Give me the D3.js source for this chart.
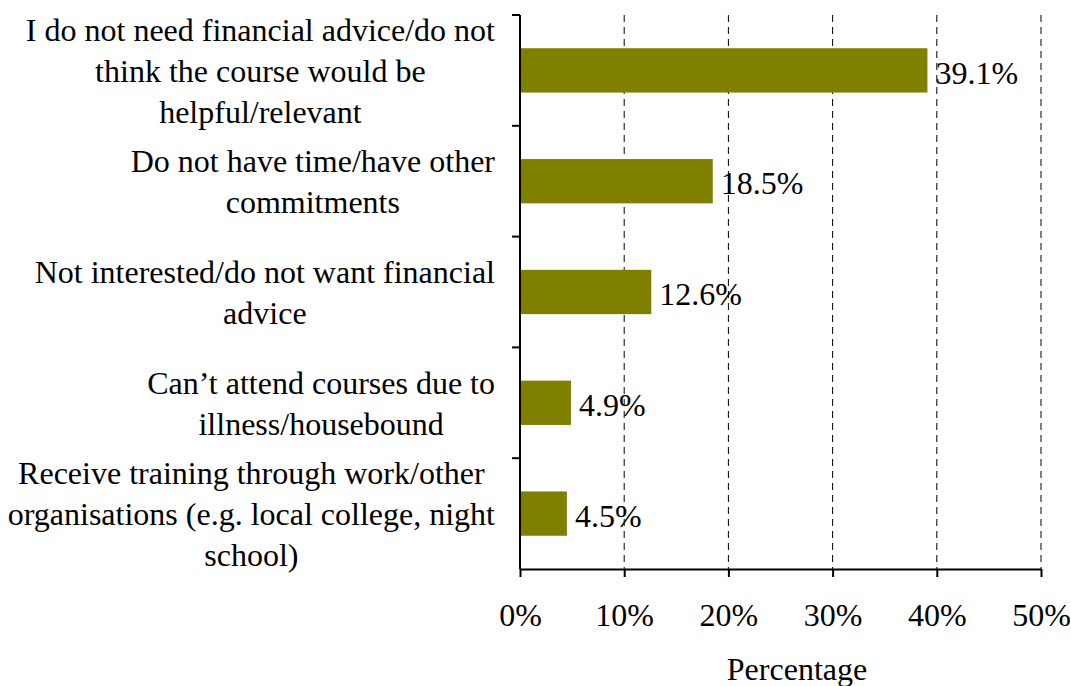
<!DOCTYPE html>
<html>
<head>
<meta charset="utf-8">
<script src="https://cdn.jsdelivr.net/npm/d3@7"></script>
<style>
  body { margin: 0; background: #fff; }
  svg { display: block; font-family: "Liberation Serif", "Times New Roman", serif; }
</style>
</head>
<body>
<div id="chart"></div>
<script>
const categories = [
  ["I do not need financial advice/do not", "think the course would be", "helpful/relevant"],
  ["Do not have time/have other", "commitments"],
  ["Not interested/do not want financial", "advice"],
  ["Can\u2019t attend courses due to", "illness/housebound"],
  ["Receive training through work/other", "organisations (e.g. local college, night", "school)"]
];
const values = [39.1, 18.5, 12.6, 4.9, 4.5];
const ticks = [0, 10, 20, 30, 40, 50];

const width = 1071, height = 686;
const margin = { left: 520, right: 30, top: 15, bottom: 117 };
const fontSize = 32;

const svg = d3.select("#chart")
  .append("svg")
  .attr("width", width)
  .attr("height", height);

const x = d3.scaleLinear()
  .domain([0, 50])
  .range([margin.left, 1041]);

const y = d3.scaleBand()
  .domain(d3.range(values.length))
  .range([margin.top, height - margin.bottom])
  .paddingInner(0.6)
  .paddingOuter(0.3);

const yBand = d3.scaleLinear()
  .domain([0, values.length])
  .range([margin.top, height - margin.bottom]);

// dashed gridlines
svg.append("g")
  .selectAll("line")
  .data(ticks.slice(1))
  .enter()
  .append("line")
  .attr("x1", d => x(d))
  .attr("x2", d => x(d))
  .attr("y1", margin.top)
  .attr("y2", height - margin.bottom)
  .attr("stroke", "#000")
  .attr("stroke-width", 1)
  .attr("stroke-dasharray", "7,5");

// bars
svg.append("g")
  .selectAll("rect")
  .data(values)
  .enter()
  .append("rect")
  .attr("x", x(0))
  .attr("y", (d, i) => y(i))
  .attr("width", d => x(d) - x(0))
  .attr("height", y.bandwidth())
  .attr("fill", "#808000");

// value labels
svg.append("g")
  .selectAll("text")
  .data(values)
  .enter()
  .append("text")
  .attr("x", d => x(d) + 8)
  .attr("y", (d, i) => y(i) + y.bandwidth() / 2 + 2)
  .attr("dy", "0.35em")
  .style("font-size", fontSize + "px")
  .text(d => d.toFixed(1) + "%");

// x axis
const xAxis = d3.axisBottom(x)
  .tickValues(ticks)
  .tickFormat(d => d + "%")
  .tickSize(8)
  .tickPadding(26)
  .tickSizeOuter(0);

const gx = svg.append("g")
  .attr("transform", `translate(0,${height - margin.bottom})`)
  .call(xAxis)
  .attr("font-family", null)
  .attr("font-size", null);
gx.select(".domain").attr("stroke-width", 2);
gx.selectAll(".tick line").attr("stroke-width", 2);
gx.selectAll(".tick text").style("font-size", fontSize + "px").attr("fill", "#000");

// y axis line with ticks at band boundaries
svg.append("line")
  .attr("x1", x(0)).attr("x2", x(0))
  .attr("y1", margin.top).attr("y2", height - margin.bottom)
  .attr("stroke", "#000").attr("stroke-width", 2);
svg.append("g")
  .selectAll("line")
  .data(d3.range(values.length))
  .enter()
  .append("line")
  .attr("x1", x(0) - 8).attr("x2", x(0))
  .attr("y1", d => yBand(d)).attr("y2", d => yBand(d))
  .attr("stroke", "#000").attr("stroke-width", 2);

// category labels: block centred, longest line ending at x = 495
const lineH = 41;
categories.forEach((lines, i) => {
  const cy = y(i) + y.bandwidth() / 2;
  const g = svg.append("g");
  const texts = lines.map((t, j) => g.append("text")
    .attr("y", cy + (j - (lines.length - 1) / 2) * lineH)
    .attr("dy", "0.35em")
    .attr("text-anchor", "middle")
    .style("font-size", fontSize + "px")
    .text(t));
  const maxW = d3.max(texts, t => t.node().getComputedTextLength());
  texts.forEach(t => t.attr("x", 495 - maxW / 2));
});

// axis title
svg.append("text")
  .attr("x", 797)
  .attr("y", 680)
  .attr("text-anchor", "middle")
  .style("font-size", fontSize + "px")
  .text("Percentage");
</script>
</body>
</html>
